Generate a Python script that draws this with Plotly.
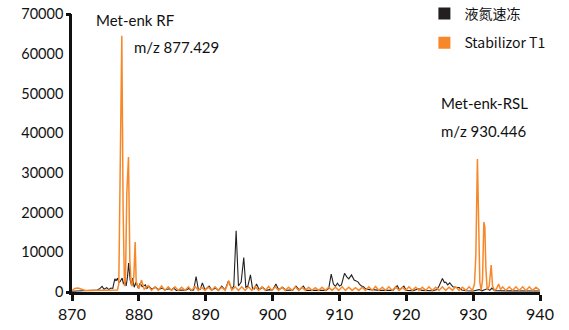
import plotly.graph_objects as go

# ---- data ----
series_names = ["液氮速冻", "Stabilizor T1"]

mz_black = [870.0, 871.0, 872.0, 873.0, 873.8, 874.2, 874.5, 874.8, 875.2, 875.5, 875.8, 876.1,
            876.4, 876.6, 876.8, 877.0, 877.2, 877.5, 877.7, 877.9, 878.1, 878.3, 878.47, 878.7,
            878.9, 879.07, 879.3, 879.6, 879.9, 880.2, 880.5, 880.97, 881.2, 881.5, 881.9, 882.5,
            882.9, 883.5, 883.9, 884.5, 884.9, 885.2, 885.6, 886.2, 886.7, 887.0, 887.5, 887.8,
            888.2, 888.56, 888.9, 889.2, 889.5, 889.9, 890.5, 890.9, 891.5, 891.9, 892.4, 892.9,
            893.4, 893.9, 894.2, 894.55, 894.9, 895.3, 895.69, 896.0, 896.3, 896.69, 897.0, 897.3,
            897.6, 898.0, 898.5, 899.0, 899.6, 900.0, 900.5, 900.9, 901.5, 902.0, 902.6, 903.0,
            903.5, 904.0, 904.6, 905.0, 906.0, 907.0, 908.0, 908.4, 908.77, 909.1, 909.4, 909.7,
            910.0, 910.3, 910.76, 911.1, 911.4, 911.81, 912.2, 912.5, 912.8, 913.0, 913.3, 913.6,
            913.9, 914.5, 915.0, 916.0, 917.0, 918.0, 918.65, 919.0, 919.64, 920.0, 921.0, 921.9,
            922.3, 923.0, 924.0, 924.6, 924.9, 925.4, 925.7, 925.9, 926.2, 926.5, 926.97, 927.3,
            927.9, 928.3, 929.0, 930.0, 930.9, 931.3, 932.1, 932.5, 932.8, 933.2, 934.0, 935.0,
            936.0, 937.0, 938.0, 939.0, 940.0]
int_black = [200, 250, 250, 300, 500, 900, 1400, 700, 1100, 600, 1000, 900,
             3300, 2800, 3500, 2400, 2600, 3500, 2000, 2900, 1500, 3800, 7300, 3000,
             1800, 3500, 1200, 2500, 1000, 2200, 1300, 1800, 900, 1500, 700, 1200,
             600, 1000, 500, 800, 500, 1000, 400, 500, 400, 450, 900, 400,
             500, 3900, 600, 700, 2300, 500, 1500, 500, 1000, 400, 1500, 500,
             2800, 700, 1500, 15400, 1500, 2500, 8700, 1200, 1500, 4300, 900, 800,
             2000, 600, 1200, 400, 600, 500, 2000, 600, 1200, 400, 500, 400,
             1500, 500, 1500, 400, 400, 350, 400, 900, 4500, 2000, 1400, 2200,
             1500, 1800, 4700, 3800, 3300, 4300, 3000, 2800, 2500, 2000, 1500, 1300,
             800, 600, 600, 400, 350, 400, 1600, 500, 1500, 400, 350, 800,
             400, 350, 300, 600, 1500, 3400, 2400, 2500, 1800, 2300, 1300, 1200,
             1100, 500, 300, 250, 600, 300, 800, 400, 1000, 300, 300, 250,
             250, 250, 250, 250, 250]

mz_orange = [870.0, 870.4, 870.9, 871.5, 872.0, 872.6, 873.4, 874.0, 874.8, 875.6, 876.2, 876.8,
             877.0, 877.2, 877.45, 877.65, 877.85, 878.0, 878.2, 878.45, 878.65, 878.85, 879.0, 879.25,
             879.45, 879.6, 879.8, 880.0, 880.4, 880.8, 881.4, 881.9, 882.4, 882.9, 883.4, 883.9,
             884.4, 884.9, 885.4, 885.9, 886.4, 886.9, 887.4, 887.9, 888.4, 888.9, 889.4, 889.9,
             890.4, 890.9, 891.4, 891.9, 892.4, 892.9, 893.47, 893.9, 894.4, 894.9, 895.4, 895.9,
             896.4, 896.9, 897.4, 897.9, 898.4, 898.9, 899.4, 899.9, 900.4, 900.9, 901.4, 901.9,
             902.4, 902.9, 903.4, 903.9, 904.4, 904.9, 905.4, 905.9, 906.4, 906.9, 907.4, 907.9,
             908.4, 908.9, 909.4, 909.9, 910.4, 910.9, 911.4, 911.9, 912.4, 912.9, 913.4, 913.9,
             914.4, 914.9, 915.4, 915.9, 916.4, 916.9, 917.4, 917.9, 918.4, 918.9, 919.4, 919.9,
             920.4, 920.9, 921.4, 921.9, 922.4, 922.9, 923.4, 923.9, 924.4, 924.9, 925.4, 925.9,
             926.4, 926.9, 927.4, 927.9, 928.4, 928.9, 929.4, 929.9, 930.2, 930.4, 930.64, 930.85,
             931.0, 931.2, 931.4, 931.6, 931.75, 931.9, 932.1, 932.4, 932.7, 932.9, 933.2, 933.5,
             933.8, 934.1, 934.4, 934.9, 935.4, 935.9, 936.4, 936.9, 937.4, 937.9, 938.4, 938.9,
             939.4, 939.9, 940.0]
int_orange = [300, 900, 1000, 700, 400, 350, 350, 400, 400, 450, 450, 500,
              2000, 30000, 64500, 20000, 1500, 3000, 25000, 34000, 8000, 2000, 1500, 4000,
              12600, 2500, 1700, 800, 3000, 700, 1600, 400, 1300, 400, 1500, 400,
              1300, 400, 1300, 400, 1200, 400, 1300, 400, 1400, 400, 1200, 400,
              1200, 400, 1300, 400, 1200, 400, 2800, 500, 1300, 400, 1300, 400,
              1300, 400, 1400, 400, 1300, 400, 1400, 400, 1300, 400, 1200, 400,
              1200, 400, 1300, 400, 1200, 400, 1200, 400, 1100, 400, 1200, 400,
              1200, 400, 1200, 400, 1300, 400, 1200, 400, 1100, 400, 1200, 400,
              1300, 400, 1400, 400, 1200, 400, 1300, 400, 1300, 400, 1200, 400,
              1300, 400, 1200, 400, 1200, 400, 1300, 400, 1200, 400, 1300, 400,
              1200, 400, 1300, 400, 1200, 400, 1300, 400, 2000, 9000, 33500, 9300,
              2500, 400, 3000, 17600, 16400, 6000, 500, 1500, 6800, 1500, 400, 800,
              2000, 600, 1300, 400, 1300, 400, 1300, 400, 1300, 400, 1300, 400,
              1200, 500, 300]

x_ticks = [870, 880, 890, 900, 910, 920, 930, 940]
y_ticks = [0, 10000, 20000, 30000, 40000, 50000, 60000, 70000]
y_tick_text = ["0", "10000", "20000", "30000", "40000", "50000", "60000", "70000"]

labels = [
    ("Met-enk RF", 873.3, 68500),
    ("m/z 877.429", 878.9, 61700),
    ("Met-enk-RSL", 924.9, 47600),
    ("m/z 930.446", 924.9, 40500),
]

BLACK = "#231f20"
ORANGE = "#f7882a"
FONT = "Lato, 'Open Sans', sans-serif"

fig = go.Figure()
fig.add_trace(go.Scatter(x=mz_black, y=int_black, mode="lines",
                         line=dict(color=BLACK, width=1.1), showlegend=False))
fig.add_trace(go.Scatter(x=mz_orange, y=int_orange, mode="lines",
                         line=dict(color=ORANGE, width=1.5), showlegend=False))
# legend entries shown as squares
fig.add_trace(go.Scatter(x=[None], y=[None], mode="markers", name=series_names[0],
                         legendgroup="a",
                         marker=dict(symbol="square", size=12, color=BLACK)))
fig.add_trace(go.Scatter(x=[None], y=[None], mode="markers", name=series_names[1],
                         legendgroup="b",
                         marker=dict(symbol="square", size=12, color=ORANGE)))
# invisible helper trace for end ticks on y axis
fig.add_trace(go.Scatter(x=[None], y=[None], yaxis="y2", showlegend=False))

for text, x, y in labels:
    fig.add_annotation(text=text, x=x, y=y, xref="x", yref="y", showarrow=False,
                       xanchor="left", yanchor="middle",
                       font=dict(family=FONT, size=15, color="#111"))

fig.update_layout(
    width=569, height=330,
    margin=dict(l=72, r=29, t=14, b=38, autoexpand=False),
    paper_bgcolor="white", plot_bgcolor="white",
    font=dict(family=FONT, size=15, color="#111"),
    xaxis=dict(range=[870, 940], tickvals=x_ticks, showgrid=False, zeroline=False,
               showline=True, linecolor="#111", linewidth=2.5,
               ticks="outside", ticklen=6, tickwidth=3, tickcolor="#111",
               tickfont=dict(family=FONT, size=16)),
    yaxis=dict(range=[0, 70000], tickvals=y_ticks, ticktext=y_tick_text,
               showgrid=False, zeroline=False,
               showline=True, linecolor="#111", linewidth=2.5, ticks="",
               ticklabelstandoff=3, tickfont=dict(family=FONT, size=14.5)),
    yaxis2=dict(range=[0, 70000], overlaying="y", side="left", tickvals=[0, 70000],
                showticklabels=False, ticks="outside", ticklen=5, tickwidth=2.5,
                tickcolor="#111", showgrid=False, zeroline=False, showline=False),
    legend=dict(x=0.753, y=1.058, xanchor="left", yanchor="top",
                font=dict(family="'Noto Sans CJK SC', Lato, sans-serif", size=14, color="#111"),
                bgcolor="rgba(0,0,0,0)", itemwidth=30, tracegroupgap=8),
)

fig.write_html("out.html")
